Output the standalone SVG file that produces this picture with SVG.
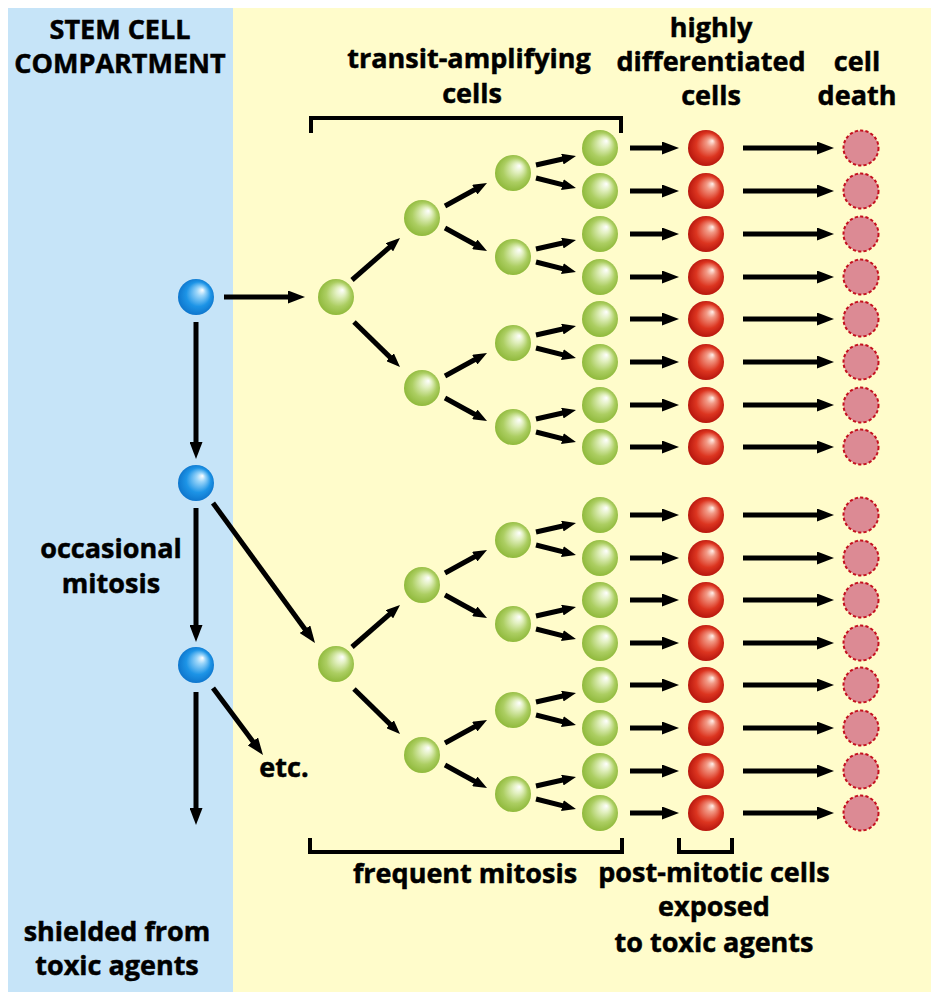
<svg xmlns="http://www.w3.org/2000/svg" width="939" height="1000" viewBox="0 0 939 1000">
<style>
.lbl{font-family:"Open Sans","Liberation Sans",sans-serif;font-weight:bold;font-size:27px;fill:#000;stroke:#000;stroke-width:0.5;text-anchor:middle}
.ar{stroke:#000;stroke-width:5;fill:none}
.big{marker-end:url(#mb)}
.sm{marker-end:url(#ms)}
.br{stroke:#000;stroke-width:4;fill:none}
.stem{fill:url(#gBlue)}
.ta{fill:url(#gGreen)}
.diff{fill:url(#gRed)}
.dead{fill:#dc8a94;stroke:#c4101e;stroke-width:2;stroke-dasharray:3.2 2.2}
</style>
<defs>
<radialGradient id="gBlue" cx="0.5" cy="0.5" r="0.55" fx="0.68" fy="0.3">
<stop offset="0" stop-color="#ffffff"/><stop offset="0.22" stop-color="#9cd6fa"/><stop offset="0.62" stop-color="#1d94e6"/><stop offset="1" stop-color="#0b70c8"/>
</radialGradient>
<radialGradient id="gGreen" cx="0.5" cy="0.5" r="0.55" fx="0.68" fy="0.3">
<stop offset="0" stop-color="#ffffff"/><stop offset="0.25" stop-color="#e2f0c0"/><stop offset="0.62" stop-color="#acce62"/><stop offset="1" stop-color="#8ab534"/>
</radialGradient>
<radialGradient id="gRed" cx="0.5" cy="0.5" r="0.55" fx="0.68" fy="0.3">
<stop offset="0" stop-color="#fff0ea"/><stop offset="0.22" stop-color="#f29a86"/><stop offset="0.62" stop-color="#dc3520"/><stop offset="1" stop-color="#b0100a"/>
</radialGradient>
<marker id="mb" markerUnits="userSpaceOnUse" markerWidth="17" markerHeight="13" refX="9" refY="6.5" orient="auto">
<path d="M0,0 L17,6.5 L0,13 Z" fill="#000"/>
</marker>
<marker id="ms" markerUnits="userSpaceOnUse" markerWidth="14" markerHeight="11" refX="6" refY="5.5" orient="auto">
<path d="M0,0 L14,5.5 L0,11 Z" fill="#000"/>
</marker>
</defs>

<g id="background">
<rect x="0" y="0" width="939" height="1000" fill="#ffffff"/>
<rect x="8" y="8" width="225" height="984" fill="#c6e4f8"/>
<rect x="233" y="8" width="698" height="984" fill="#fffccb"/>
</g>

<g id="labels">
<text class="lbl" x="120" y="39">STEM CELL</text>
<text class="lbl" x="120" y="73">COMPARTMENT</text>
<text class="lbl" x="469" y="68">transit-amplifying</text>
<text class="lbl" x="472" y="103">cells</text>
<text class="lbl" x="711" y="37">highly</text>
<text class="lbl" x="711" y="71">differentiated</text>
<text class="lbl" x="711" y="105">cells</text>
<text class="lbl" x="857" y="71">cell</text>
<text class="lbl" x="857" y="105">death</text>
<text class="lbl" x="111" y="558">occasional</text>
<text class="lbl" x="111" y="593">mitosis</text>
<text class="lbl" x="284" y="777" font-size="24">etc.</text>
<text class="lbl" x="117" y="941">shielded from</text>
<text class="lbl" x="117" y="975">toxic agents</text>
<text class="lbl" x="465" y="883">frequent mitosis</text>
<text class="lbl" x="714" y="882">post-mitotic cells</text>
<text class="lbl" x="714" y="916">exposed</text>
<text class="lbl" x="714" y="952">to toxic agents</text>
</g>

<g id="brackets">
<path class="br" d="M311,133 V118 H621 V133"/>
<path class="br" d="M310,838 V852 H622 V838"/>
<path class="br" d="M679,838 V852 H732 V838"/>
</g>

<g id="connectors">
<line class="ar big" x1="224" y1="297" x2="297" y2="297"/>
<line class="ar big" x1="196" y1="322" x2="196" y2="451"/>
<line class="ar big" x1="196" y1="508" x2="196" y2="634"/>
<line class="ar big" x1="196" y1="692" x2="196" y2="817"/>
<line class="ar big" x1="213" y1="503" x2="310.3" y2="636.5"/>
<line class="ar big" x1="213" y1="688" x2="258.2" y2="748.6"/>

<line class="ar sm" x1="352" y1="280" x2="394" y2="243.3"/>
<line class="ar sm" x1="354" y1="322" x2="394.3" y2="361.4"/>
<line class="ar sm" x1="352" y1="647" x2="394" y2="610.3"/>
<line class="ar sm" x1="354" y1="689" x2="394.3" y2="728.4"/>

<line class="ar sm" x1="445" y1="206" x2="480" y2="186.8"/>
<line class="ar sm" x1="445" y1="228" x2="480" y2="247.2"/>
<line class="ar sm" x1="445" y1="376" x2="480" y2="356.8"/>
<line class="ar sm" x1="445" y1="398" x2="480" y2="417.2"/>
<line class="ar sm" x1="445" y1="573" x2="480" y2="553.8"/>
<line class="ar sm" x1="445" y1="595" x2="480" y2="614.2"/>
<line class="ar sm" x1="445" y1="743" x2="480" y2="723.8"/>
<line class="ar sm" x1="445" y1="765" x2="480" y2="784.2"/>

<line class="ar sm" x1="536" y1="165" x2="568.2" y2="157.8"/>
<line class="ar sm" x1="536" y1="178" x2="568.2" y2="186.1"/>
<line class="ar sm" x1="536" y1="249" x2="568.2" y2="241.8"/>
<line class="ar sm" x1="536" y1="262" x2="568.2" y2="270.1"/>
<line class="ar sm" x1="536" y1="335" x2="568.2" y2="327.8"/>
<line class="ar sm" x1="536" y1="348" x2="568.2" y2="356.1"/>
<line class="ar sm" x1="536" y1="419" x2="568.2" y2="411.8"/>
<line class="ar sm" x1="536" y1="432" x2="568.2" y2="440.1"/>
<line class="ar sm" x1="536" y1="532" x2="568.2" y2="524.8"/>
<line class="ar sm" x1="536" y1="545" x2="568.2" y2="553.1"/>
<line class="ar sm" x1="536" y1="616" x2="568.2" y2="608.8"/>
<line class="ar sm" x1="536" y1="629" x2="568.2" y2="637.1"/>
<line class="ar sm" x1="536" y1="702" x2="568.2" y2="694.8"/>
<line class="ar sm" x1="536" y1="715" x2="568.2" y2="723.1"/>
<line class="ar sm" x1="536" y1="786" x2="568.2" y2="778.8"/>
<line class="ar sm" x1="536" y1="799" x2="568.2" y2="807.1"/>

<line class="ar big" x1="630" y1="148" x2="671" y2="148"/>
<line class="ar big" x1="630" y1="191" x2="671" y2="191"/>
<line class="ar big" x1="630" y1="234" x2="671" y2="234"/>
<line class="ar big" x1="630" y1="277" x2="671" y2="277"/>
<line class="ar big" x1="630" y1="319" x2="671" y2="319"/>
<line class="ar big" x1="630" y1="362" x2="671" y2="362"/>
<line class="ar big" x1="630" y1="405" x2="671" y2="405"/>
<line class="ar big" x1="630" y1="447" x2="671" y2="447"/>
<line class="ar big" x1="630" y1="515" x2="671" y2="515"/>
<line class="ar big" x1="630" y1="558" x2="671" y2="558"/>
<line class="ar big" x1="630" y1="600" x2="671" y2="600"/>
<line class="ar big" x1="630" y1="643" x2="671" y2="643"/>
<line class="ar big" x1="630" y1="685" x2="671" y2="685"/>
<line class="ar big" x1="630" y1="728" x2="671" y2="728"/>
<line class="ar big" x1="630" y1="771" x2="671" y2="771"/>
<line class="ar big" x1="630" y1="813" x2="671" y2="813"/>

<line class="ar big" x1="743" y1="148" x2="826" y2="148"/>
<line class="ar big" x1="743" y1="191" x2="826" y2="191"/>
<line class="ar big" x1="743" y1="234" x2="826" y2="234"/>
<line class="ar big" x1="743" y1="277" x2="826" y2="277"/>
<line class="ar big" x1="743" y1="319" x2="826" y2="319"/>
<line class="ar big" x1="743" y1="362" x2="826" y2="362"/>
<line class="ar big" x1="743" y1="405" x2="826" y2="405"/>
<line class="ar big" x1="743" y1="447" x2="826" y2="447"/>
<line class="ar big" x1="743" y1="515" x2="826" y2="515"/>
<line class="ar big" x1="743" y1="558" x2="826" y2="558"/>
<line class="ar big" x1="743" y1="600" x2="826" y2="600"/>
<line class="ar big" x1="743" y1="643" x2="826" y2="643"/>
<line class="ar big" x1="743" y1="685" x2="826" y2="685"/>
<line class="ar big" x1="743" y1="728" x2="826" y2="728"/>
<line class="ar big" x1="743" y1="771" x2="826" y2="771"/>
<line class="ar big" x1="743" y1="813" x2="826" y2="813"/>
</g>

<g id="stem-1"><circle class="stem" cx="196" cy="297" r="18"/></g>
<g id="stem-2"><circle class="stem" cx="196" cy="483" r="18"/></g>
<g id="stem-3"><circle class="stem" cx="196" cy="665" r="18"/></g>

<g id="ta-1a"><circle class="ta" cx="336" cy="297" r="18"/></g>
<g id="ta-1b"><circle class="ta" cx="336" cy="664" r="18"/></g>
<g id="ta-2a"><circle class="ta" cx="422" cy="218" r="18"/></g>
<g id="ta-2b"><circle class="ta" cx="422" cy="388" r="18"/></g>
<g id="ta-2c"><circle class="ta" cx="422" cy="585" r="18"/></g>
<g id="ta-2d"><circle class="ta" cx="422" cy="755" r="18"/></g>
<g id="ta-3a"><circle class="ta" cx="513" cy="173" r="18"/></g>
<g id="ta-3b"><circle class="ta" cx="513" cy="257" r="18"/></g>
<g id="ta-3c"><circle class="ta" cx="513" cy="343" r="18"/></g>
<g id="ta-3d"><circle class="ta" cx="513" cy="427" r="18"/></g>
<g id="ta-3e"><circle class="ta" cx="513" cy="540" r="18"/></g>
<g id="ta-3f"><circle class="ta" cx="513" cy="624" r="18"/></g>
<g id="ta-3g"><circle class="ta" cx="513" cy="710" r="18"/></g>
<g id="ta-3h"><circle class="ta" cx="513" cy="794" r="18"/></g>

<g id="ta-4-01"><circle class="ta" cx="600" cy="148" r="18"/></g>
<g id="ta-4-02"><circle class="ta" cx="600" cy="191" r="18"/></g>
<g id="ta-4-03"><circle class="ta" cx="600" cy="234" r="18"/></g>
<g id="ta-4-04"><circle class="ta" cx="600" cy="277" r="18"/></g>
<g id="ta-4-05"><circle class="ta" cx="600" cy="319" r="18"/></g>
<g id="ta-4-06"><circle class="ta" cx="600" cy="362" r="18"/></g>
<g id="ta-4-07"><circle class="ta" cx="600" cy="405" r="18"/></g>
<g id="ta-4-08"><circle class="ta" cx="600" cy="447" r="18"/></g>
<g id="ta-4-09"><circle class="ta" cx="600" cy="515" r="18"/></g>
<g id="ta-4-10"><circle class="ta" cx="600" cy="558" r="18"/></g>
<g id="ta-4-11"><circle class="ta" cx="600" cy="600" r="18"/></g>
<g id="ta-4-12"><circle class="ta" cx="600" cy="643" r="18"/></g>
<g id="ta-4-13"><circle class="ta" cx="600" cy="685" r="18"/></g>
<g id="ta-4-14"><circle class="ta" cx="600" cy="728" r="18"/></g>
<g id="ta-4-15"><circle class="ta" cx="600" cy="771" r="18"/></g>
<g id="ta-4-16"><circle class="ta" cx="600" cy="813" r="18"/></g>

<g id="diff-01"><circle class="diff" cx="706" cy="148" r="18"/></g>
<g id="diff-02"><circle class="diff" cx="706" cy="191" r="18"/></g>
<g id="diff-03"><circle class="diff" cx="706" cy="234" r="18"/></g>
<g id="diff-04"><circle class="diff" cx="706" cy="277" r="18"/></g>
<g id="diff-05"><circle class="diff" cx="706" cy="319" r="18"/></g>
<g id="diff-06"><circle class="diff" cx="706" cy="362" r="18"/></g>
<g id="diff-07"><circle class="diff" cx="706" cy="405" r="18"/></g>
<g id="diff-08"><circle class="diff" cx="706" cy="447" r="18"/></g>
<g id="diff-09"><circle class="diff" cx="706" cy="515" r="18"/></g>
<g id="diff-10"><circle class="diff" cx="706" cy="558" r="18"/></g>
<g id="diff-11"><circle class="diff" cx="706" cy="600" r="18"/></g>
<g id="diff-12"><circle class="diff" cx="706" cy="643" r="18"/></g>
<g id="diff-13"><circle class="diff" cx="706" cy="685" r="18"/></g>
<g id="diff-14"><circle class="diff" cx="706" cy="728" r="18"/></g>
<g id="diff-15"><circle class="diff" cx="706" cy="771" r="18"/></g>
<g id="diff-16"><circle class="diff" cx="706" cy="813" r="18"/></g>

<g id="dead-01"><circle class="dead" cx="861" cy="148" r="17.5"/></g>
<g id="dead-02"><circle class="dead" cx="861" cy="191" r="17.5"/></g>
<g id="dead-03"><circle class="dead" cx="861" cy="234" r="17.5"/></g>
<g id="dead-04"><circle class="dead" cx="861" cy="277" r="17.5"/></g>
<g id="dead-05"><circle class="dead" cx="861" cy="319" r="17.5"/></g>
<g id="dead-06"><circle class="dead" cx="861" cy="362" r="17.5"/></g>
<g id="dead-07"><circle class="dead" cx="861" cy="405" r="17.5"/></g>
<g id="dead-08"><circle class="dead" cx="861" cy="447" r="17.5"/></g>
<g id="dead-09"><circle class="dead" cx="861" cy="515" r="17.5"/></g>
<g id="dead-10"><circle class="dead" cx="861" cy="558" r="17.5"/></g>
<g id="dead-11"><circle class="dead" cx="861" cy="600" r="17.5"/></g>
<g id="dead-12"><circle class="dead" cx="861" cy="643" r="17.5"/></g>
<g id="dead-13"><circle class="dead" cx="861" cy="685" r="17.5"/></g>
<g id="dead-14"><circle class="dead" cx="861" cy="728" r="17.5"/></g>
<g id="dead-15"><circle class="dead" cx="861" cy="771" r="17.5"/></g>
<g id="dead-16"><circle class="dead" cx="861" cy="813" r="17.5"/></g>
</svg>
